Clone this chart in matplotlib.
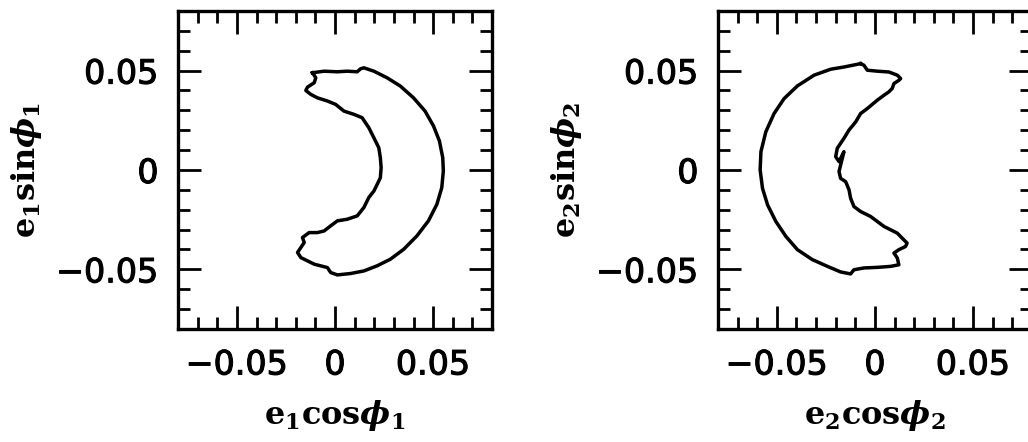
import matplotlib
matplotlib.use("Agg")
import matplotlib.pyplot as plt
import matplotlib.patheffects as pe
from matplotlib.ticker import MultipleLocator

plt.rcParams['mathtext.fontset'] = 'custom'
plt.rcParams['mathtext.bf'] = 'DejaVu Serif:bold'
plt.rcParams['mathtext.bfit'] = 'DejaVu Serif:italic:bold'
plt.rcParams['mathtext.rm'] = 'DejaVu Serif:bold'

# planet 1 contour
x1 = [-0.0115, -0.0056, 0.0012, 0.0062, 0.0113, 0.0130, 0.0147, 0.0198, 0.0265,
      0.0333, 0.0400, 0.0459, 0.0502, 0.0532, 0.0549, 0.0552, 0.0544, 0.0519,
      0.0476, 0.0417, 0.0350, 0.0282, 0.0215, 0.0147, 0.0079, 0.0012, -0.0022,
      -0.0039, -0.0106, -0.0174, -0.0191, -0.0174, -0.0157, -0.0166, -0.0132,
      -0.0090, -0.0056, -0.0022, 0.0012, 0.0062, 0.0113, 0.0147, 0.0172, 0.0198,
      0.0215, 0.0231, 0.0235, 0.0231, 0.0223, 0.0198, 0.0172, 0.0138, 0.0096,
      0.0046, 0.0003, -0.0039, -0.0090, -0.0123, -0.0149, -0.0140, -0.0106,
      -0.0098, -0.0115]
y1 = [0.0489, 0.0497, 0.0494, 0.0497, 0.0494, 0.0509, 0.0514, 0.0497, 0.0464,
      0.0422, 0.0363, 0.0296, 0.0221, 0.0146, 0.0062, -0.0005, -0.0089, -0.0173,
      -0.0256, -0.0332, -0.0399, -0.0449, -0.0482, -0.0508, -0.0521, -0.0528,
      -0.0516, -0.0491, -0.0474, -0.0441, -0.0415, -0.0390, -0.0365, -0.0340,
      -0.0315, -0.0315, -0.0307, -0.0281, -0.0256, -0.0248, -0.0231, -0.0189,
      -0.0139, -0.0106, -0.0072, -0.0039, 0.0012, 0.0062, 0.0112, 0.0162,
      0.0213, 0.0263, 0.0280, 0.0296, 0.0330, 0.0347, 0.0363, 0.0380, 0.0400,
      0.0417, 0.0439, 0.0464, 0.0489]

# planet 2 contour
x2 = [-0.0073, -0.0158, -0.0225, -0.0310, -0.0395, -0.0463, -0.0514, -0.0556,
      -0.0581, -0.0585, -0.0573, -0.0547, -0.0505, -0.0454, -0.0395, -0.0319,
      -0.0242, -0.0175, -0.0124, -0.0107, -0.0056, 0.0012, 0.0080, 0.0122,
      0.0114, 0.0097, 0.0122, 0.0156, 0.0164, 0.0139, 0.0114, 0.0080, 0.0046,
      0.0012, -0.0022, -0.0073, -0.0107, -0.0124, -0.0132, -0.0149, -0.0175,
      -0.0183, -0.0158, -0.0183, -0.0200, -0.0192, -0.0158, -0.0132, -0.0098,
      -0.0073, -0.0039, 0.0012, 0.0046, 0.0071, 0.0088, 0.0097, 0.0122, 0.0131,
      0.0114, 0.0071, 0.0012, -0.0039, -0.0056, -0.0073]
y2 = [0.0535, 0.0518, 0.0507, 0.0477, 0.0423, 0.0359, 0.0284, 0.0192, 0.0092,
      0.0000, -0.0092, -0.0176, -0.0259, -0.0334, -0.0401, -0.0451, -0.0485,
      -0.0513, -0.0523, -0.0502, -0.0493, -0.0490, -0.0485, -0.0477, -0.0443,
      -0.0418, -0.0401, -0.0385, -0.0368, -0.0343, -0.0318, -0.0301, -0.0284,
      -0.0259, -0.0234, -0.0209, -0.0184, -0.0142, -0.0100, -0.0059, -0.0042,
      -0.0008, 0.0092, 0.0042, 0.0067, 0.0109, 0.0159, 0.0201, 0.0242, 0.0284,
      0.0309, 0.0351, 0.0376, 0.0393, 0.0410, 0.0435, 0.0451, 0.0460, 0.0477,
      0.0493, 0.0497, 0.0502, 0.0527, 0.0535]

tick_vals = [-0.05, 0, 0.05]
tick_labels = ['\u22120.05', '0', '0.05']

fig = plt.figure(figsize=(10.28, 4.42), dpi=100)
ax1 = fig.add_axes([0.1732, 0.2557, 0.3054, 0.7195])
ax2 = fig.add_axes([0.6984, 0.2557, 0.3054, 0.7195])

thick = [pe.withStroke(linewidth=0.8, foreground='black')]

for ax, xs, ys, n in [(ax1, x1, y1, 1), (ax2, x2, y2, 2)]:
    ax.plot(xs, ys, color='black', lw=2.5)
    ax.set_xlim(-0.08, 0.08)
    ax.set_ylim(-0.08, 0.08)
    ax.set_xticks(tick_vals, tick_labels)
    ax.set_yticks(tick_vals, tick_labels)
    ax.xaxis.set_minor_locator(MultipleLocator(0.01))
    ax.yaxis.set_minor_locator(MultipleLocator(0.01))
    ax.tick_params(which='both', direction='in', top=True, right=True, width=2)
    ax.tick_params(which='major', length=16.5, labelsize=24, pad=14)
    ax.tick_params(which='minor', length=8.6)
    for lab in ax.get_xticklabels() + ax.get_yticklabels():
        lab.set_path_effects(thick)
    for s in ax.spines.values():
        s.set_linewidth(2.4)
    ax.set_xlabel(r'$\mathbf{e_%dcos}\boldsymbol{\phi}_\mathbf{%d}$' % (n, n),
                  fontsize=23, labelpad=12)
    ax.set_ylabel(r'$\mathbf{e_%dsin}\boldsymbol{\phi}_\mathbf{%d}$' % (n, n),
                  fontsize=23, labelpad=9)

fig.savefig('out.png', dpi=100)
